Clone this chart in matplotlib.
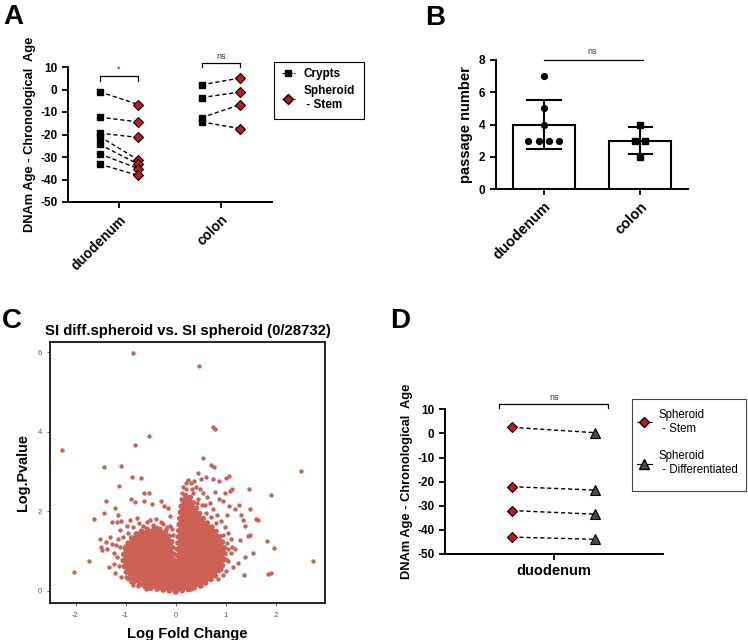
import matplotlib
matplotlib.use("Agg")
import matplotlib.pyplot as plt
from matplotlib.lines import Line2D
from matplotlib.patches import Rectangle
import numpy as np

plt.rcParams['font.family'] = ['Liberation Sans', 'DejaVu Sans']
plt.rcParams['font.weight'] = 'bold'
plt.rcParams['axes.labelweight'] = 'bold'
plt.rcParams['axes.titleweight'] = 'bold'
plt.rcParams['axes.unicode_minus'] = False

# ---- dados painel A (DNAm age - chronological age)
grupos_a = ["duodenum", "colon"]
duo_crypts = [-1.0, -12.3, -19.4, -20.9, -24.4, -28.6, -33.2]
duo_stem = [-6.7, -14.4, -21.3, -31.3, -33.2, -35.2, -38.2]
col_crypts = [2.1, -3.6, -12.5, -14.4]
col_stem = [5.1, -1.1, -6.7, -17.4]
sig_a = ["*", "ns"]

# ---- dados painel B (passage number)
grupos_b = ["duodenum", "colon"]
pass_duo = [7, 5, 4, 3, 3, 3, 3]
pass_col = [4, 3, 3, 2]

# ---- dados painel C (volcano): pontos espalhados
volc_x = [-0.85, 0.47, 0.75, 0.79, -0.53, -0.81, -2.27, 0.54, -1.43, -1.09, 0.70, 0.77, 2.51,
          -0.87, -0.70, -1.13, 1.91, -1.40, -1.63, -1.73, -2.03, 2.75, 1.97, 1.82, 1.85, 1.91,
          1.37, 1.47, 1.61, 1.65, 1.49,
          -0.63, -0.54, -0.90, -0.82, -0.64, -0.47, -0.30, -0.23, -0.15, -1.21, -1.43, -1.15,
          -1.10, -1.27, -1.18, -0.91, -0.77, -0.73, -0.58, -0.51, -0.39, -0.30, -0.11, -0.18,
          -1.11, -1.31, -1.51, -1.40, -1.28, -1.50, -1.38, -1.47, -1.23, -1.11, -1.33, -1.24,
          -1.21, -1.13, -0.99, -0.86, -0.75, -0.85, -0.71, -1.05, -0.95, -0.98, -0.85, -0.65,
          -0.45, -0.25, -0.08, -1.15, -1.20, -1.18, -1.10, -0.95, -0.60,
          -0.95, -1.02, -0.90, -0.78, -0.60, -0.40, -0.20, -0.12, -0.05, -1.00, -0.90, -0.75,
          -0.55,
          0.45, 1.06, 1.00, 0.61, 0.74, 0.87, 0.51, 1.13, 1.09, 0.98, 0.79, 0.87, 0.95, 1.27,
          1.07, 1.18, 1.30, 1.35, 1.02, 1.39, 1.49, 1.45, 1.55, 1.38, 1.24, 0.95, 1.19, 1.29,
          0.15, 0.20, 0.25, 0.30, 0.36, 0.40, 0.33, 0.48, 0.55, 0.62, 0.68, 0.58, 0.75, 0.82,
          0.90, 0.70, 0.98, 1.05, 1.10, 1.02, 1.12, 1.10, 1.05, 1.15, 1.00, 0.85, 0.12, 0.10,
          0.52, 0.45,
          0.08, 0.06, 0.20, 0.35, 0.42, 0.60, 0.80, 0.95, 1.05, 1.00, 0.90, 0.70, 0.50, 0.30]
volc_y = [5.97, 5.65, 4.13, 4.08, 3.90, 3.66, 3.53, 3.33, 3.11, 3.14, 3.17, 3.12, 3.02,
          2.85, 2.84, 2.63, 2.41, 2.25, 1.80, 0.75, 0.47, 0.74, 1.07, 1.25, 0.42, 0.44,
          0.40, 2.56, 1.80, 1.77, 2.06,
          2.45, 2.45, 2.32, 2.24, 2.26, 2.18, 2.26, 2.14, 2.08, 2.09, 1.97, 1.90,
          1.76, 1.74, 1.72, 1.78, 1.82, 1.70, 1.73, 1.78, 1.80, 1.74, 1.88, 1.60,
          1.52, 1.36, 1.31, 1.23, 1.18, 1.11, 1.06, 1.03, 0.96, 1.10, 0.61, 0.67,
          0.46, 0.63, 0.51, 0.53, 0.44, 0.16, 0.18, 1.35, 1.45, 1.62, 1.60, 1.62,
          1.65, 1.68, 1.55, 1.30, 1.15, 0.85, 0.35, 0.30, 0.05,
          0.90, 1.12, 1.32, 1.45, 1.58, 1.60, 1.55, 1.62, 1.40, 0.35, 0.22, 0.12,
          0.08,
          2.97, 2.89, 2.84, 2.87, 2.81, 2.77, 2.80, 2.57, 2.52, 2.47, 2.49, 2.30, 2.27, 2.17,
          2.14, 2.05, 1.92, 1.78, 1.90, 1.63, 1.41, 1.38, 0.95, 0.85, 0.70, 0.39, 1.06, 1.28,
          2.62, 2.72, 2.78, 2.70, 2.76, 2.62, 2.55, 2.55, 2.45, 2.35, 2.20, 2.15, 2.05, 1.90,
          1.75, 1.85, 1.60, 1.45, 1.30, 1.20, 1.10, 0.95, 0.75, 0.60, 0.50, 0.30, 2.45, 2.30,
          2.15, 2.30,
          2.00, 1.70, 2.55, 2.45, 2.20, 1.95, 1.70, 1.40, 1.05, 0.80, 0.55, 0.30, 0.12, 0.05]
# contorno da nuvem densa (~28 mil pontos)
nuvem_x = [0.00, -0.25, -0.50, -0.70, -0.88, -1.00, -1.05, -1.03, -0.95, -0.85, -0.70, -0.50,
           -0.30, -0.15, -0.06, -0.03, 0.00, 0.03, 0.05, 0.08, 0.12, 0.18, 0.28, 0.36, 0.45,
           0.60, 0.78, 0.92, 1.00, 0.95, 0.80, 0.55, 0.25]
nuvem_y = [-0.02, 0.02, 0.07, 0.13, 0.28, 0.50, 0.75, 1.00, 1.20, 1.38, 1.50, 1.55,
           1.55, 1.45, 1.20, 0.80, 0.45, 0.80, 1.30, 1.80, 2.20, 2.40, 2.40, 2.20, 2.00,
           1.75, 1.55, 1.30, 1.00, 0.65, 0.38, 0.15, 0.03]

# ---- dados painel D
d_stem = [2.5, -22.1, -32.0, -43.0]
d_diff = [0.3, -23.5, -33.5, -43.9]

W, H = 748, 640
fig = plt.figure(figsize=(W / 100, H / 100), dpi=100)


def eixo(l, r, t, b):
    return fig.add_axes([l / W, 1 - b / H, (r - l) / W, (b - t) / H])


def caixa(l, r, t, b, cor="k"):
    fig.patches.append(Rectangle((l / W, 1 - b / H), (r - l) / W, (b - t) / H,
                                 transform=fig.transFigure, fill=False, ec=cor, lw=0.8))


def estilo_prism(ax):
    for s in ["top", "right"]:
        ax.spines[s].set_visible(False)
    for s in ["left", "bottom"]:
        ax.spines[s].set_linewidth(1.4)
    ax.tick_params(width=1.3, length=4, labelsize=8.5)


vermelho = "#c8141e"
off = 0.19

# ================= A
axA = eixo(68, 272, 67, 202)
estilo_prism(axA)
for i, (c, s) in enumerate([(duo_crypts, duo_stem), (col_crypts, col_stem)]):
    for a, b in zip(c, s):
        axA.plot([i - off, i + off], [a, b], "k--", lw=1.0, dashes=(3, 2))
    axA.plot([i - off] * len(c), c, "s", color="k", ms=5)
    axA.plot([i + off] * len(s), s, "D", mfc=vermelho, mec="k", mew=0.8, ms=5)
axA.set_xlim(-0.5, 1.5)
axA.set_ylim(-50, 10)
axA.set_yticks(range(-50, 11, 10))
axA.set_xticks([0, 1])
axA.set_xticklabels(grupos_a, rotation=45, ha="right", rotation_mode="anchor", fontsize=10)
axA.set_ylabel("DNAm Age - Chronological  Age", fontsize=9.3, labelpad=3)
for i, (yb, txt) in enumerate([(6, sig_a[0]), (12, sig_a[1])]):
    axA.plot([i - off, i - off, i + off, i + off], [yb - 2, yb, yb, yb - 2], "k-", lw=0.9,
             clip_on=False)
    axA.text(i, yb + 0.8, txt, ha="center", va="bottom", fontsize=6.5, fontweight="normal",
             color="#333333")
hA = [Line2D([], [], color="k", ls="--", marker="s", ms=5, lw=0.8),
      Line2D([], [], color="k", ls="--", marker="D", mfc=vermelho, mec="k", ms=5, lw=0.8)]
fig.legend(hA, ["Crypts", "Spheroid\n - Stem"], loc="upper left",
           bbox_to_anchor=(282 / W, 1 - 68 / H), frameon=False, borderpad=0, borderaxespad=0,
           prop={"weight": "bold", "size": 8.5}, handlelength=1.1,
           labelspacing=0.45, handletextpad=0.7)
caixa(274, 364, 62, 119)

# ================= B
axB = eixo(495.7, 688, 60, 189)
estilo_prism(axB)
for i, (vals, mk) in enumerate([(pass_duo, "o"), (pass_col, "s")]):
    m = np.mean(vals)
    sd = np.std(vals, ddof=1)
    axB.bar(i, m, width=0.65, color="white", edgecolor="k", lw=1.5, zorder=1)
    axB.errorbar(i, m, yerr=sd, color="k", lw=1.5, capsize=13 if i == 0 else 9,
                 capthick=1.5, zorder=2)
    for v in sorted(set(vals), reverse=True):
        n = vals.count(v)
        for j in range(n):
            axB.plot(i + 0.107 * (j - (n - 1) / 2), v, mk, color="k", ms=4.2, zorder=3)
axB.set_xlim(-0.5, 1.5)
axB.set_ylim(0, 8)
axB.set_yticks([0, 2, 4, 6, 8])
axB.set_xticks([0, 1])
axB.set_xticklabels(grupos_b, rotation=45, ha="right", rotation_mode="anchor", fontsize=10.5)
axB.set_ylabel("passage number", fontsize=10.5)
axB.plot([0, 1.03], [8, 8], "k-", lw=0.9, clip_on=False)
axB.text(0.5, 8.25, "ns", ha="center", va="bottom", fontsize=6.5, fontweight="normal",
         color="#333333")

# ================= C
axC = eixo(50, 325, 341.7, 603.3)
cor_v = "#cd6155"
axC.fill(nuvem_x, nuvem_y, color=cor_v, lw=0, zorder=2)
# borda pontilhada para imitar os pontos da nuvem
axC.plot(nuvem_x + nuvem_x[:1], nuvem_y + nuvem_y[:1], color=cor_v, lw=4,
         ls=(0, (0.01, 1.1)), dash_capstyle="round", zorder=2)
axC.scatter(volc_x, volc_y, s=10, color=cor_v, lw=0, zorder=3)
axC.set_xlim(-2.51, 2.99)
axC.set_ylim(-0.31, 6.26)
axC.set_xticks([-2, -1, 0, 1, 2])
axC.set_yticks([0, 2, 4, 6])
for s in axC.spines.values():
    s.set_linewidth(1.2)
axC.tick_params(colors="#555555", labelsize=5.5, length=2.5, width=0.6)
for t in axC.get_xticklabels() + axC.get_yticklabels():
    t.set_fontweight("normal")
axC.set_title("SI diff.spheroid vs. SI spheroid (0/28732)", fontsize=10.7, pad=5,
              fontweight="bold")
axC.set_xlabel("Log Fold Change", fontsize=10.6, labelpad=6)
axC.set_ylabel("Log.Pvalue", fontsize=10.4, labelpad=5)

# ================= D
axD = eixo(445, 662.7, 409.3, 554)
estilo_prism(axD)
for a, b in zip(d_stem, d_diff):
    axD.plot([-off, off], [a, b], "k--", lw=1.0, dashes=(3, 2))
axD.plot([-off] * len(d_stem), d_stem, "D", mfc=vermelho, mec="k", mew=0.8, ms=5)
axD.plot([off] * len(d_diff), d_diff, "^", mfc="#4a4a4a", mec="k", mew=0.8, ms=7.5)
axD.set_xlim(-0.5, 0.5)
axD.set_ylim(-50, 10)
axD.set_yticks(range(-50, 11, 10))
axD.set_xticks([0])
axD.set_xticklabels(["duodenum"], fontsize=10.5)
axD.set_ylabel("DNAm Age - Chronological  Age", fontsize=9.3, labelpad=3)
axD.plot([-0.25, -0.25, 0.25, 0.25], [10.4, 12.1, 12.1, 10.4], "k-", lw=0.9, clip_on=False)
axD.text(0, 13.2, "ns", ha="center", va="bottom", fontsize=6.5, fontweight="normal",
         color="#333333")
hD = [Line2D([], [], color="k", ls="--", marker="D", mfc=vermelho, mec="k", ms=5, lw=0.8),
      Line2D([], [], color="k", ls="-", marker="^", mfc="#4a4a4a", mec="k", ms=7, lw=0.8)]
fig.legend(hD, ["Spheroid\n - Stem", "Spheroid\n - Differentiated"], loc="upper left",
           bbox_to_anchor=(637 / W, 1 - 409 / H), frameon=False, borderpad=0, borderaxespad=0,
           prop={"weight": "normal", "size": 8.3}, handlelength=1.3,
           labelspacing=1.35, handletextpad=0.6)
caixa(631.7, 745.7, 399.3, 491, cor="#444444")

# letras dos paineis
for letra, x, y in [("A", 3, 24), ("B", 425, 25), ("C", 2, 328), ("D", 390, 328)]:
    fig.text(x / W, 1 - y / H, letra, fontsize=20, fontweight="bold", va="baseline")

fig.savefig("out.png", dpi=100)
